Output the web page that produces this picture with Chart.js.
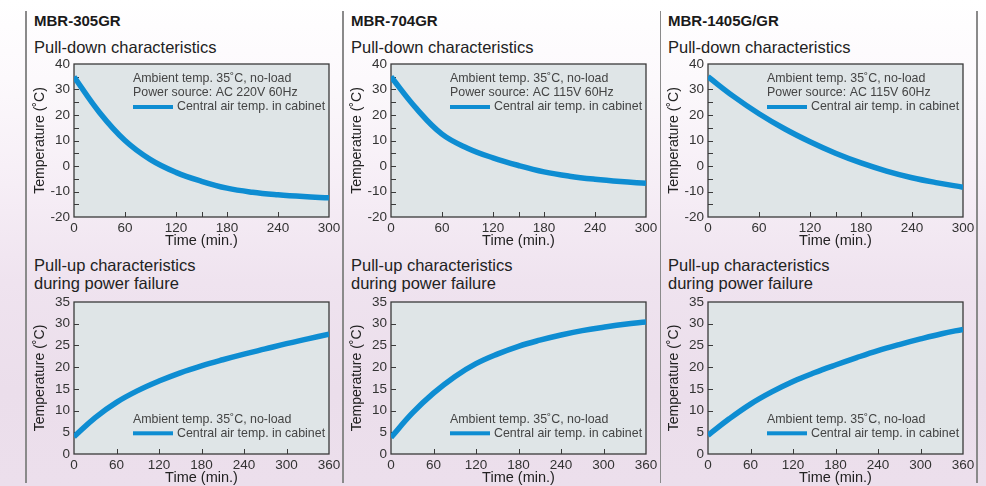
<!DOCTYPE html>
<html>
<head>
<meta charset="utf-8">
<script src="https://cdn.jsdelivr.net/npm/chart.js@4.4.0/dist/chart.umd.min.js"></script>
<style>
  html, body { margin: 0; padding: 0; }
  body {
    width: 986px; height: 486px; overflow: hidden; position: relative;
    font-family: 'Liberation Sans', Arial, sans-serif; color: #222;
    background: linear-gradient(to bottom, #ffffff 0%, #fcf9fc 16%, #f6eef6 38%, #efe3ef 58%, #ebdeeb 80%, #ecdfec 100%);
  }
  canvas { position: absolute; }
  .vline { position: absolute; top: 11px; height: 472px; width: 1.5px; background: #8a8a8a; }
  .model { position: absolute; top: 12px; font-size: 15px; line-height: 18px; font-weight: bold; color: #1a1a1a; }
  .sub { position: absolute; font-size: 16.5px; line-height: 18.3px; color: #222; }
</style>
</head>
<body>
<div class="vline" style="left:25px"></div>
<div class="vline" style="left:342px"></div>
<div class="vline" style="left:659.5px"></div>
<div class="vline" style="left:976px"></div>

<div id="titles"></div>

<canvas id="down0" width="311" height="194" style="left:32px;top:56px"></canvas>
<canvas id="down1" width="311" height="194" style="left:349px;top:56px"></canvas>
<canvas id="down2" width="311" height="194" style="left:666px;top:56px"></canvas>
<canvas id="up0" width="311" height="193" style="left:32px;top:294px"></canvas>
<canvas id="up1" width="311" height="193" style="left:349px;top:294px"></canvas>
<canvas id="up2" width="311" height="193" style="left:666px;top:294px"></canvas>

<script>
// time axis (minutes)
const pullDownTime = [0, 30, 60, 90, 120, 150, 180, 210, 240, 270, 300];
const pullUpTime = [0, 30, 60, 90, 120, 150, 180, 210, 240, 270, 300, 330, 360];

// central air temp. in cabinet (°C)
const mbr305Down = [35, 21, 10, 2.5, -2.5, -6, -8.7, -10.3, -11.3, -12, -12.5];
const mbr704Down = [35, 22.5, 12.5, 7, 3.2, 0.2, -2.3, -4, -5.2, -6.1, -6.8];
const mbr1405Down = [35, 27.3, 20.5, 14.6, 9.5, 5, 1.2, -2, -4.6, -6.6, -8.3];
const mbr305Up = [4, 8.4, 11.9, 14.6, 16.8, 18.7, 20.3, 21.7, 23, 24.2, 25.4, 26.5, 27.6];
const mbr704Up = [3.8, 9.4, 14, 17.8, 20.8, 23, 24.8, 26.2, 27.4, 28.4, 29.2, 29.9, 30.4];
const mbr1405Up = [4.3, 8.1, 11.5, 14.3, 16.7, 18.7, 20.5, 22.2, 23.8, 25.2, 26.5, 27.7, 28.7];

// tick marks
const pullDownXTicks = [0, 60, 120, 150, 180, 240, 300];
const pullUpXTicks = [0, 60, 120, 180, 240, 300, 360];

const models = ['MBR-305GR', 'MBR-704GR', 'MBR-1405G/GR'];
const powerSources = ['AC 220V 60Hz', 'AC 115V 60Hz', 'AC 115V 60Hz'];
const titleLeft = [34, 351, 668];

// headings
let html = '';
models.forEach((m, i) => {
  html += `<div class="model" style="left:${titleLeft[i]}px">${m}</div>`;
  html += `<div class="sub" style="left:${titleLeft[i]}px;top:37.5px">Pull-down characteristics</div>`;
  html += `<div class="sub" style="left:${titleLeft[i]}px;top:256px">Pull-up characteristics<br>during power failure</div>`;
});
document.getElementById('titles').innerHTML = html;

const lineColor = '#0e8dd2';
const plotBg = '#dfe5e7';

// plot background, frame, inner ticks and the note block
const panelDecor = {
  id: 'panelDecor',
  beforeDatasetsDraw(chart) {
    const { ctx, chartArea: a, scales } = chart;
    ctx.save();
    ctx.fillStyle = plotBg;
    ctx.fillRect(a.left, a.top, a.right - a.left, a.bottom - a.top);
    ctx.strokeStyle = '#3a3a3a';
    ctx.lineWidth = 1;
    ctx.beginPath();
    scales.y.ticks.forEach(t => {
      if (t.value === scales.y.min || t.value === scales.y.max) return;
      const y = Math.round(scales.y.getPixelForValue(t.value)) + 0.5;
      ctx.moveTo(a.left, y); ctx.lineTo(a.left + 5, y);
    });
    scales.x.ticks.forEach(t => {
      if (t.value === scales.x.min || t.value === scales.x.max) return;
      const x = Math.round(scales.x.getPixelForValue(t.value)) + 0.5;
      ctx.moveTo(x, a.bottom); ctx.lineTo(x, a.bottom - 5);
    });
    ctx.stroke();
    ctx.lineWidth = 1.3;
    ctx.strokeRect(a.left, a.top, a.right - a.left, a.bottom - a.top);
    ctx.restore();
  },
  afterDatasetsDraw(chart, args, opts) {
    const { ctx, chartArea: a } = chart;
    const x0 = a.left + 59;
    const rows = opts.notes.length + 1;
    const first = opts.anchor === 'top' ? a.top + 15 : a.bottom - 20.7 - (rows - 1) * 14;
    ctx.save();
    ctx.font = '12.4px "Liberation Sans", Arial, sans-serif';
    ctx.fillStyle = '#444';
    ctx.textBaseline = 'middle';
    opts.notes.forEach((txt, i) => ctx.fillText(txt, x0, first + i * 14));
    const ly = first + (rows - 1) * 14;
    ctx.fillStyle = lineColor;
    ctx.fillRect(x0, ly - 2, 40, 4);
    ctx.fillStyle = '#444';
    ctx.fillText('Central air temp. in cabinet', x0 + 44, ly);
    ctx.restore();
  }
};

function makeChart(id, xs, ys, cfg) {
  new Chart(document.getElementById(id), {
    type: 'line',
    data: {
      datasets: [{
        data: xs.map((x, i) => ({ x: x, y: ys[i] })),
        borderColor: lineColor,
        borderWidth: 5.5,
        pointRadius: 0,
        tension: 0.4,
        fill: false
      }]
    },
    options: {
      responsive: false,
      animation: false,
      layout: { padding: { top: 8, right: 14, left: 0, bottom: 0 } },
      plugins: {
        legend: { display: false },
        tooltip: { enabled: false },
        panelDecor: { notes: cfg.notes, anchor: cfg.anchor }
      },
      scales: {
        x: {
          type: 'linear',
          min: 0,
          max: cfg.xMax,
          afterBuildTicks: s => { s.ticks = cfg.xTicks.map(v => ({ value: v })); },
          afterFit: s => { s.height = 33; s.paddingLeft = 0; s.paddingRight = 0; },
          grid: { display: false, drawTicks: false },
          border: { display: false },
          ticks: {
            autoSkip: false, maxRotation: 0, padding: 3, color: '#333',
            font: { family: 'Liberation Sans', size: 13.5 },
            callback: v => (v % 60 === 0 ? v : '')
          },
          title: { display: true, text: 'Time (min.)', color: '#222', padding: 0,
                   font: { family: 'Liberation Sans', size: 14.5 } }
        },
        y: {
          min: cfg.yMin,
          max: cfg.yMax,
          afterFit: s => { s.width = 42; s.paddingTop = 0; s.paddingBottom = 0; },
          grid: { display: false, drawTicks: false },
          border: { display: false },
          ticks: {
            stepSize: 5, autoSkip: false, padding: 4, color: '#333',
            font: { family: 'Liberation Sans', size: 13.5 },
            callback: v => (v % cfg.yLabelStep === 0 ? v : '')
          },
          title: { display: true, text: 'Temperature (˚C)', color: '#222', padding: 0,
                   font: { family: 'Liberation Sans', size: 14 } }
        }
      }
    },
    plugins: [panelDecor]
  });
}

const downSeries = [mbr305Down, mbr704Down, mbr1405Down];
const upSeries = [mbr305Up, mbr704Up, mbr1405Up];

downSeries.forEach((ys, i) => {
  makeChart('down' + i, pullDownTime, ys, {
    xMax: 300, xTicks: pullDownXTicks, yMin: -20, yMax: 40, yLabelStep: 10, anchor: 'top',
    notes: ['Ambient temp. 35˚C, no-load', 'Power source: ' + powerSources[i]]
  });
});

upSeries.forEach((ys, i) => {
  makeChart('up' + i, pullUpTime, ys, {
    xMax: 360, xTicks: pullUpXTicks, yMin: 0, yMax: 35, yLabelStep: 5, anchor: 'bottom',
    notes: ['Ambient temp. 35˚C, no-load']
  });
});
</script>
</body>
</html>
